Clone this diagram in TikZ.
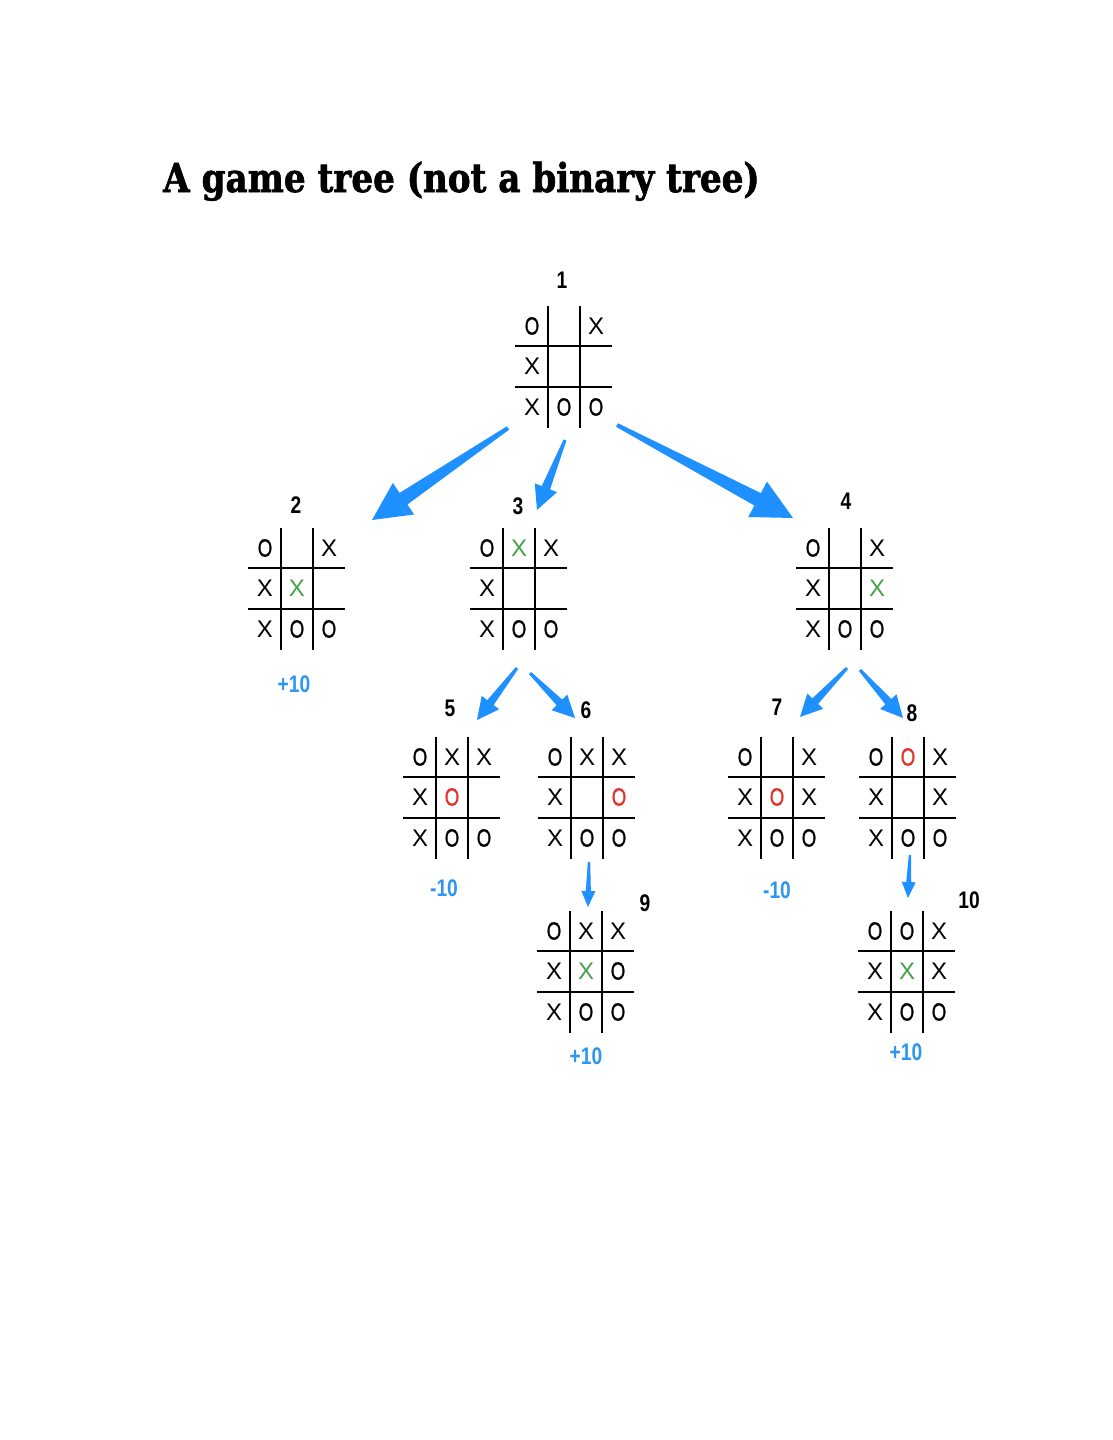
\documentclass[tikz,border=0pt]{standalone}
\usepackage{fontspec}
\usepackage{xcolor}
\usepackage{tikz}
\usetikzlibrary{calc}
\setmainfont{Liberation Sans}
\newfontfamily\titlefont[FakeStretch=0.855, FakeBold=1.6]{DejaVu Serif}
\newfontfamily\markfont{Liberation Sans}
\newfontfamily\ofont[FakeStretch=0.74, FakeBold=0.8]{Liberation Sans}
\newfontfamily\numfont[FakeStretch=0.8]{Liberation Sans}
\definecolor{TreeBlue}{RGB}{30,144,255}
\definecolor{ScoreBlue}{RGB}{45,150,240}
\definecolor{MoveGreen}{RGB}{70,160,70}
\definecolor{MoveRed}{RGB}{225,50,40}
\newcommand{\oo}{{\ofont\fontsize{25}{25}\selectfont O}}
\newcommand{\gx}{\textcolor{MoveGreen}{X}}
\newcommand{\ro}{\textcolor{MoveRed}{\oo}}
% tapered arrow: from, to, tail half width, shaft half width, head length, head half width
\newcommand{\taper}[6]{%
  \coordinate (tA) at #1;
  \coordinate (tB) at #2;
  \coordinate (tH) at ($(tB)!#5!(tA)$);
  \fill[TreeBlue] ($(tA)!#3!90:(tB)$) -- ($(tH)!#4!90:(tB)$) -- ($(tH)!#6!90:(tB)$)
    -- (tB) -- ($(tH)!#6!-90:(tB)$) -- ($(tH)!#4!-90:(tB)$) -- ($(tA)!#3!-90:(tB)$) -- cycle;
}

\begin{document}
\begin{tikzpicture}[x=1pt, y=-1pt,
    gridline/.style={line width=1.9pt, black},
    xo/.style={font=\markfont\fontsize{24}{24}\selectfont, inner sep=0pt, anchor=center},
    num/.style={font=\numfont\bfseries\fontsize{24}{24}\selectfont, inner sep=0pt},
    score/.style={font=\numfont\bfseries\fontsize{24}{24}\selectfont, text=ScoreBlue, inner sep=0pt},
    pics/board/.style n args={9}{code={
        \node[inner sep=0pt, minimum width=97pt, minimum height=122pt] (frame) at (0,1) {};
        \draw[gridline] (-16,-60) -- (-16,62);
        \draw[gridline] (16,-60) -- (16,62);
        \draw[gridline] (-49,-20) -- (48,-20);
        \draw[gridline] (-49,21) -- (48,21);
        \node[xo] (c1) at (-32,-40) {#1};
        \node[xo] (c2) at (0,-40) {#2};
        \node[xo] (c3) at (32,-40) {#3};
        \node[xo] (c4) at (-32,0) {#4};
        \node[xo] (c5) at (0,0) {#5};
        \node[xo] (c6) at (32,0) {#6};
        \node[xo] (c7) at (-32,41) {#7};
        \node[xo] (c8) at (0,41) {#8};
        \node[xo] (c9) at (32,41) {#9};
    }}
  ]
  \path[use as bounding box, fill=white] (0,0) rectangle (1113,1440);

  % title
  \node[anchor=base west, inner sep=0pt, font=\titlefont\bfseries\fontsize{40}{40}\selectfont]
        (title) at (163,192) {A game tree (not a binary tree)};

  % boards
  \pic (b1)  at (564,366) {board={\oo}{}{X}{X}{}{}{X}{\oo}{\oo}};
  \pic (b2)  at (297,588) {board={\oo}{}{X}{X}{\gx}{}{X}{\oo}{\oo}};
  \pic (b3)  at (519,588) {board={\oo}{\gx}{X}{X}{}{}{X}{\oo}{\oo}};
  \pic (b4)  at (845,588) {board={\oo}{}{X}{X}{}{\gx}{X}{\oo}{\oo}};
  \pic (b5)  at (452,797) {board={\oo}{X}{X}{X}{\ro}{}{X}{\oo}{\oo}};
  \pic (b6)  at (587,797) {board={\oo}{X}{X}{X}{}{\ro}{X}{\oo}{\oo}};
  \pic (b7)  at (777,797) {board={\oo}{}{X}{X}{\ro}{X}{X}{\oo}{\oo}};
  \pic (b8)  at (908,797) {board={\oo}{\ro}{X}{X}{}{X}{X}{\oo}{\oo}};
  \pic (b9)  at (586,971) {board={\oo}{X}{X}{X}{\gx}{\oo}{X}{\oo}{\oo}};
  \pic (b10) at (907,971) {board={\oo}{\oo}{X}{X}{\gx}{X}{X}{\oo}{\oo}};

  % board numbers
  \node[num] (n1)  at (562,280) {1};
  \node[num] (n2)  at (296,505) {2};
  \node[num] (n3)  at (518,506) {3};
  \node[num] (n4)  at (846,501) {4};
  \node[num] (n5)  at (450,708) {5};
  \node[num] (n6)  at (586,710) {6};
  \node[num] (n7)  at (777,707) {7};
  \node[num] (n8)  at (912,713) {8};
  \node[num] (n9)  at (645,903) {9};
  \node[num] (n10) at (969,900) {10};

  % scores
  \node[score] (s2)  at (294,684)  {+10};
  \node[score] (s5)  at (444,888)  {-10};
  \node[score] (s7)  at (777,890)  {-10};
  \node[score] (s9)  at (586,1056) {+10};
  \node[score] (s10) at (906,1052) {+10};

  % moves
  \taper{($(b1frame)+(-56,61)$)}{($(b2frame)+(75,-69)$)}{2pt}{7pt}{38pt}{19pt}
  \taper{($(b1frame)+(1,73)$)}{($(b3frame)+(18,-79)$)}{1.5pt}{4.5pt}{24pt}{12pt}
  \taper{($(b1frame)+(53,58)$)}{($(b4frame)+(-52,-71)$)}{2pt}{7pt}{40pt}{20pt}
  \taper{($(b3frame)+(-2,79)$)}{($(b5frame)+(25,-78)$)}{1.5pt}{4pt}{22pt}{11pt}
  \taper{($(b3frame)+(11,84)$)}{($(b6frame)+(-12,-80)$)}{1.5pt}{4pt}{22pt}{11pt}
  \taper{($(b4frame)+(2,79)$)}{($(b7frame)+(23,-81)$)}{1.5pt}{4pt}{22pt}{11pt}
  \taper{($(b4frame)+(15,81)$)}{($(b8frame)+(-5,-80)$)}{1.5pt}{4pt}{22pt}{11pt}
  \taper{($(b6frame)+(2,64)$)}{($(b9frame)+(2,-65)$)}{1.2pt}{2.5pt}{16pt}{7pt}
  \taper{($(b8frame)+(2,57)$)}{($(b10frame)+(1,-74)$)}{1.2pt}{2.5pt}{16pt}{7pt}
\end{tikzpicture}
\end{document}
